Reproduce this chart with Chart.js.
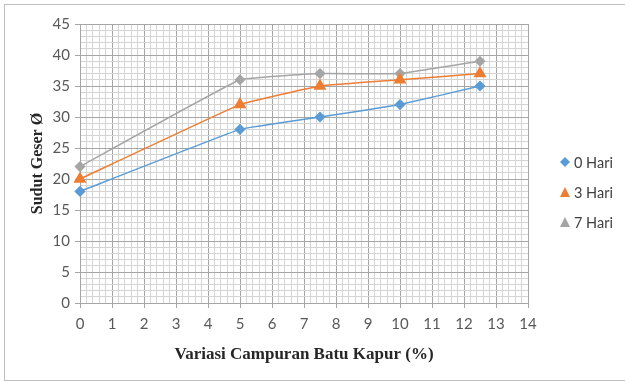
<!DOCTYPE html>
<html>
<head>
<meta charset="utf-8">
<script src="https://cdn.jsdelivr.net/npm/chart.js@4.4.1/dist/chart.umd.min.js"></script>
<style>
  html, body { margin: 0; padding: 0; background: #fff; }
  body { width: 625px; height: 381px; position: relative; overflow: hidden; }
  .frame { position: absolute; left: 4px; top: 4px; width: 700px; height: 375px; border: 1px solid #bfbfbf; }
  #wrap { position: absolute; left: 0; top: 0; width: 625px; height: 381px; }
  .legend { position: absolute; left: 560px; top: 147px; font-family: Lato, 'Open Sans', sans-serif; font-size: 14.5px; color: #404040; }
  .legend div { height: 30px; display: flex; align-items: center; }
  .legend svg { margin-right: 4px; }
</style>
</head>
<body>
<div class="frame"></div>
<div id="wrap"><canvas id="chart"></canvas></div>
<div class="legend" id="legend"></div>
<script>
const xValues = [0, 5, 7.5, 10, 12.5];
const hari0 = [18, 28, 30, 32, 35];
const hari3 = [20, 32, 35, 36, 37];
const hari7 = [22, 36, 37, 37, 39];

const SERIES = [
  { label: '0 Hari', data: hari0, color: '#5b9bd5', style: 'rectRot', radius: 4.5, legendShape: 'diamond' },
  { label: '3 Hari', data: hari3, color: '#ed7d31', style: 'triangle', radius: 6, legendShape: 'triangle' },
  { label: '7 Hari', data: hari7, color: '#a5a5a5', style: 'rectRot', radius: 4.5, legendShape: 'triangle' },
];

const isWhole = (v, step) => Math.abs(v / step - Math.round(v / step)) < 1e-6;
const MAJOR = '#a6a6a6';
const MINOR = '#d4d4d4';
const tickFont = { family: 'Lato, "Open Sans", sans-serif', size: 15 };
const titleFont = { family: '"Liberation Serif", "Times New Roman", serif', size: 17, weight: 'bold' };

new Chart(document.getElementById('chart'), {
  type: 'line',
  data: {
    datasets: SERIES.map((s) => ({
      label: s.label,
      data: xValues.map((x, i) => ({ x, y: s.data[i] })),
      borderColor: s.color,
      backgroundColor: s.color,
      pointBackgroundColor: s.color,
      pointBorderColor: s.color,
      pointStyle: s.style,
      pointRadius: s.radius,
      pointHoverRadius: s.radius,
      borderWidth: 1.5,
      tension: 0.08,
      clip: false,
    })),
  },
  options: {
    responsive: true,
    maintainAspectRatio: false,
    animation: false,
    layout: { padding: { left: 28, top: 24, right: 97, bottom: 16 } },
    plugins: { legend: { display: false }, tooltip: { enabled: false } },
    scales: {
      x: {
        type: 'linear',
        min: 0,
        max: 14,
        afterFit: (scale) => { scale.height = 62; },
        ticks: {
          stepSize: 0.2,
          autoSkip: false,
          maxRotation: 0,
          padding: 7,
          color: '#595959',
          font: tickFont,
          callback: (v) => (isWhole(v, 1) ? Math.round(v) : ''),
        },
        grid: {
          color: (ctx) => (isWhole(ctx.tick.value, 1) ? MAJOR : MINOR),
          tickColor: (ctx) => (isWhole(ctx.tick.value, 1) ? MAJOR : 'rgba(0,0,0,0)'),
          tickLength: 5,
        },
        border: { color: MAJOR },
        title: { display: true, text: 'Variasi Campuran Batu Kapur (%)', color: '#262626', font: titleFont, padding: 0 },
      },
      y: {
        min: 0,
        max: 45,
        afterFit: (scale) => { scale.width = 52; },
        ticks: {
          stepSize: 1,
          autoSkip: false,
          padding: 5,
          color: '#595959',
          font: tickFont,
          callback: (v) => (isWhole(v, 5) ? Math.round(v) : ''),
        },
        grid: {
          color: (ctx) => (isWhole(ctx.tick.value, 5) ? MAJOR : MINOR),
          tickColor: (ctx) => (isWhole(ctx.tick.value, 5) ? MAJOR : 'rgba(0,0,0,0)'),
          tickLength: 5,
        },
        border: { color: MAJOR },
        title: { display: true, text: 'Sudut Geser Ø', color: '#262626', font: { ...titleFont, size: 16 }, padding: 0 },
      },
    },
  },
});

const shapes = {
  diamond: (c) => `<svg width="10" height="10"><polygon points="5,0 10,5 5,10 0,5" fill="${c}"/></svg>`,
  triangle: (c) => `<svg width="10" height="10"><polygon points="5,0 10,10 0,10" fill="${c}"/></svg>`,
};
document.getElementById('legend').innerHTML = SERIES.map(
  (s) => `<div>${shapes[s.legendShape](s.color)}<span>${s.label}</span></div>`
).join('');
</script>
</body>
</html>
